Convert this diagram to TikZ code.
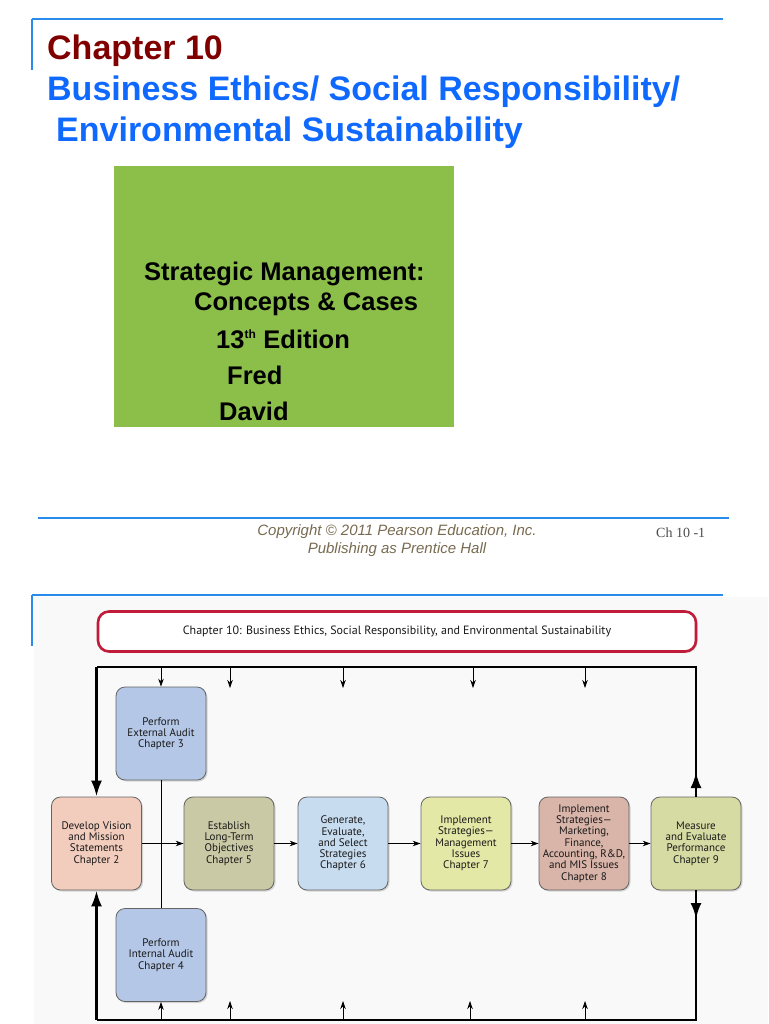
\documentclass[tikz,border=0pt]{standalone}
\usepackage{fontspec}
\setmainfont{Liberation Sans}
\newfontfamily\dfont{PT Sans}
\newfontfamily\tfont{Liberation Serif}
\usetikzlibrary{arrows.meta,shadows}
\definecolor{lineblue}{RGB}{40,140,235}
\definecolor{titleblue}{RGB}{15,105,255}
\definecolor{darkred}{RGB}{128,0,0}
\definecolor{greenbox}{RGB}{139,191,74}
\definecolor{copyc}{RGB}{120,106,80}
\definecolor{framered}{RGB}{192,28,58}
\definecolor{bordergray}{RGB}{100,100,100}
\definecolor{panelbg}{RGB}{249,249,249}
\definecolor{cAudit}{RGB}{180,199,231}
\definecolor{cDev}{RGB}{242,205,190}
\definecolor{cEst}{RGB}{202,201,166}
\definecolor{cGen}{RGB}{200,220,240}
\definecolor{cImpA}{RGB}{227,232,166}
\definecolor{cImpB}{RGB}{217,180,168}
\definecolor{cMeas}{RGB}{214,219,163}
\begin{document}
\begin{tikzpicture}[x=1pt,y=-1pt,
  blueline/.style={draw=lineblue,line width=1.6pt},
  titletext/.style={anchor=base west,inner sep=0pt,font=\bfseries\fontsize{34}{40}\selectfont},
  greentext/.style={anchor=base west,inner sep=0pt,font=\bfseries\fontsize{25.5}{30}\selectfont},
  copytext/.style={anchor=base,inner sep=0pt,text=copyc,font=\itshape\fontsize{15}{17}\selectfont},
  stagebox/.style={draw=bordergray,line width=0.8pt,rounded corners=9pt,minimum width=90pt,minimum height=93pt,
     inner sep=1pt,align=center,text=black!90,font=\dfont\fontsize{11}{11.3}\selectfont,
     drop shadow={shadow xshift=1.5pt,shadow yshift=-1.5pt,opacity=0.3}},
  smallarr/.style={line width=0.8pt,-{Stealth[length=8pt,width=5.5pt]}},
  thinline/.style={line width=0.8pt},
  bigline/.style={line width=2.8pt,line join=miter},
  bigarr/.style={line width=2.8pt,-{Latex[length=16pt,width=11pt]}}
]
\useasboundingbox (0,0) rectangle (768,1024);
% diagram panel background
\fill[panelbg] (34,597) rectangle (768,1024);
% page frame lines
\draw[blueline] (32,19) -- (723,19);
\draw[draw=lineblue,line width=1.2pt] (32,19) -- (32,70);
\draw[blueline] (38,518) -- (729,518);
\draw[blueline] (32,595) -- (723,595);
\draw[draw=lineblue,line width=1.2pt] (32,595) -- (32,646);
% titles
\node[titletext,text=darkred] (chap) at (47,60) {Chapter 10};
\node[titletext,text=titleblue] (t1) at (47,101) {Business Ethics/ Social Responsibility/};
\node[titletext,text=titleblue] (t2) at (56,142) {Environmental Sustainability};
% green box
\fill[greenbox] (114,166) rectangle (454,427);
\node[greentext] (g1) at (144,280) {Strategic Management:};
\node[greentext] (g2) at (194,310) {Concepts \& Cases};
\node[greentext] (g3) at (216,348) {13\textsuperscript{\fontsize{12}{12}\selectfont th} Edition};
\node[greentext] (g4) at (227,384) {Fred};
\node[greentext] (g5) at (219,420) {David};
% copyright
\node[copytext] (c1) at (397,535) {Copyright \textcopyright{} 2011 Pearson Education, Inc.};
\node[copytext] (c2) at (397,553) {Publishing as Prentice Hall};
\node[anchor=base west,inner sep=0pt,text=black!70,font=\tfont\fontsize{14}{16}\selectfont] (pg) at (656,537) {Ch 10 -1};
% diagram header
\node[draw=framered,line width=2.6pt,rounded corners=11pt,minimum width=598pt,minimum height=40pt,fill=white,
  text=black!90,font=\dfont\fontsize{12}{14}\selectfont,
  drop shadow={shadow xshift=1.5pt,shadow yshift=-1.5pt,opacity=0.25}] (head) at (397,631.5)
  {Chapter 10: Business Ethics, Social Responsibility, and Environmental Sustainability};
% stage boxes
\node[stagebox,fill=cAudit] (ext) at (161,733.5) {Perform\\External Audit\\Chapter 3};
\node[stagebox,fill=cAudit] (int) at (161,955) {Perform\\Internal Audit\\Chapter 4};
\node[stagebox,fill=cDev] (dev) at (96.5,843.5) {Develop Vision\\and Mission\\Statements\\Chapter 2};
\node[stagebox,fill=cEst] (est) at (229,843.5) {Establish\\Long-Term\\Objectives\\Chapter 5};
\node[stagebox,fill=cGen] (gen) at (343,843.5) {Generate,\\Evaluate,\\and Select\\Strategies\\Chapter 6};
\node[stagebox,fill=cImpA] (impa) at (466,843.5) {Implement\\Strategies\textemdash\\Management\\Issues\\Chapter 7};
\node[stagebox,fill=cImpB] (impb) at (584,843.5) {Implement\\Strategies\textemdash\\Marketing,\\Finance,\\Accounting, R\&D,\\and MIS Issues\\Chapter 8};
\node[stagebox,fill=cMeas] (meas) at (696,843.5) {Measure\\and Evaluate\\Performance\\Chapter 9};
% loop corners
\coordinate (tl) at (96.5,667);
\coordinate (tr) at (696,667);
\coordinate (bl) at (96.5,1020);
\coordinate (br) at (696,1020);
\coordinate (mup) at (696,772);
\coordinate (mdn) at (696,919);
% loop
\draw[bigline] (meas.north) -- (tr) -- (tl);
\draw[bigarr] (tl) -- (dev.north);
\draw[bigarr] (meas.north) -- (mup);
\draw[bigline] (meas.south) -- (br) -- (bl);
\draw[bigarr] (bl) -- (dev.south);
\draw[bigarr] (meas.south) -- (mdn);
% internal flow
\draw[thinline] (ext) -- (int);
\draw[smallarr] (dev) -- (est);
\draw[smallarr] (est) -- (gen);
\draw[smallarr] (gen) -- (impa);
\draw[smallarr] (impa) -- (impb);
\draw[smallarr] (impb) -- (meas);
% top feed arrows
\coordinate (ta2) at (230,667); \coordinate (tb2) at (230,688);
\coordinate (ta3) at (343,667); \coordinate (tb3) at (343,688);
\coordinate (ta4) at (473,667); \coordinate (tb4) at (473,688);
\coordinate (ta5) at (585,667); \coordinate (tb5) at (585,688);
\coordinate (ta1) at (161,667);
\draw[smallarr] (ta1) -- (ext.north);
\draw[smallarr] (ta2) -- (tb2);
\draw[smallarr] (ta3) -- (tb3);
\draw[smallarr] (ta4) -- (tb4);
\draw[smallarr] (ta5) -- (tb5);
% bottom feed arrows
\coordinate (ba1) at (161,1020);
\coordinate (ba2) at (230,1020); \coordinate (bb2) at (230,1001);
\coordinate (ba3) at (343,1020); \coordinate (bb3) at (343,1001);
\coordinate (ba4) at (470,1020); \coordinate (bb4) at (470,1001);
\coordinate (ba5) at (585,1020); \coordinate (bb5) at (585,1001);
\draw[smallarr] (ba1) -- (int.south);
\draw[smallarr] (ba2) -- (bb2);
\draw[smallarr] (ba3) -- (bb3);
\draw[smallarr] (ba4) -- (bb4);
\draw[smallarr] (ba5) -- (bb5);
\end{tikzpicture}
\end{document}
